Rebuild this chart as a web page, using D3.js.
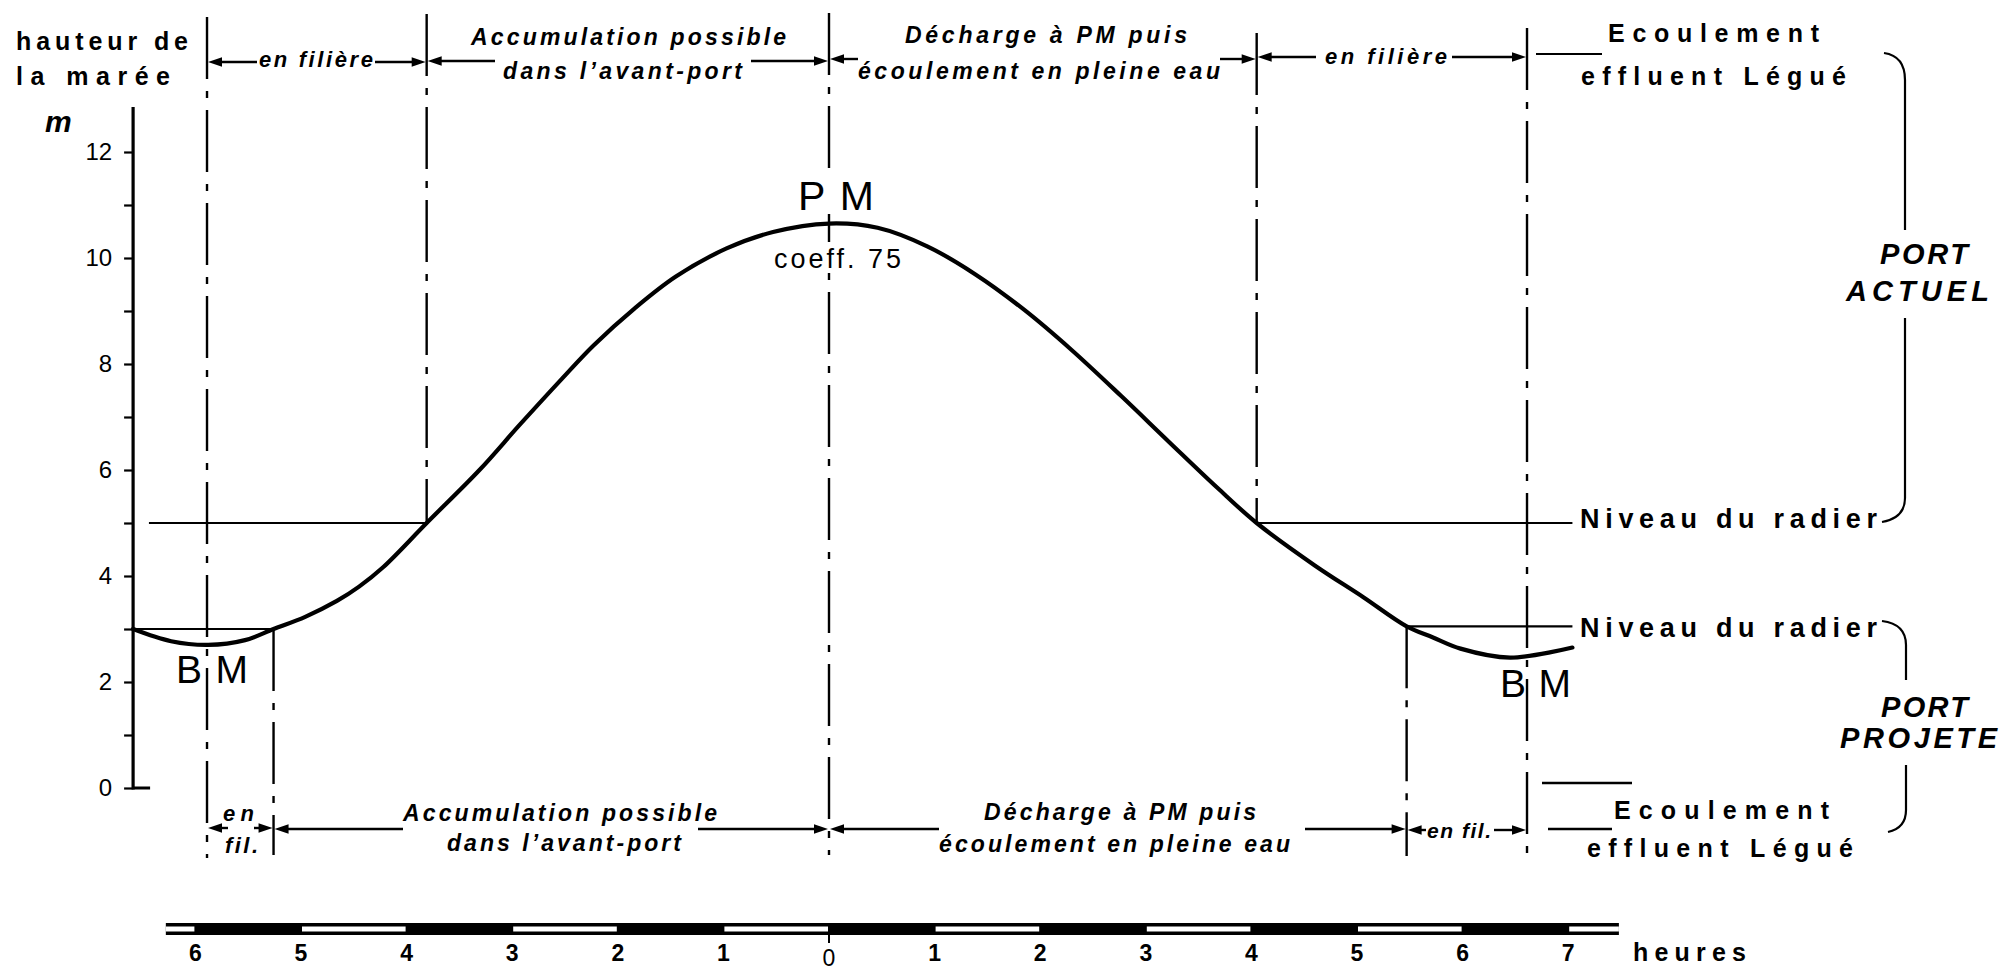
<!DOCTYPE html>
<html><head><meta charset="utf-8">
<script src="https://cdn.jsdelivr.net/npm/d3@7"></script>
<style>html,body{margin:0;padding:0;background:#fff;} svg{display:block;}</style>
</head><body>
<svg id="chart" width="2003" height="972"></svg>
<script>
// ---------------- DATA ----------------
// tide curve: hours relative to high water (PM), height in metres
const tideHours   = [-6.59, -6.23, -5.88, -5.53, -5.26, -4.96, -4.66, -4.45, -4.22, -3.81, -3.31, -2.93, -2.53, -2.23, -1.84, -1.45, -0.97, -0.53, 0, 0.46, 0.93, 1.38, 1.85, 2.30, 2.77, 3.22, 3.68, 4.05, 4.60, 5.06, 5.47, 5.72, 5.98, 6.45, 7.04];
const tideHeights = [3.0, 2.77, 2.70, 2.79, 3.0, 3.23, 3.53, 3.80, 4.17, 5.0, 6.0, 6.85, 7.72, 8.35, 9.05, 9.65, 10.18, 10.49, 10.65, 10.57, 10.22, 9.70, 9.02, 8.26, 7.39, 6.53, 5.66, 5.0, 4.20, 3.60, 3.05, 2.84, 2.63, 2.46, 2.65];
// y axis
const heightTicks = [0,1,2,3,4,5,6,7,8,9,10,11,12];
const heightTickLabels = ["0","","2","","4","","6","","8","","10","","12"];
// time scale
const hourTicks = [-6,-5,-4,-3,-2,-1,0,1,2,3,4,5,6,7];
const hourTickLabels = ["6","5","4","3","2","1","0","1","2","3","4","5","6","7"];
const barEdges = [-6.28,-6,-5,-4,-3,-2,-1,0,1,2,3,4,5,6,7,7.48];
// vertical marker lines (hours)
const markerHours = [-5.89, -5.26, -3.81, 0, 4.05, 5.47, 6.61];
// "Niveau du radier" level lines
const levelStarts  = [-6.44, -6.59, 4.05, 5.47];
const levelEnds    = [-3.81, -5.26, 7.04, 7.04];
const levelHeights = [5, 3, 5, 3.05];

// ---------------- SETUP ----------------
const svg = d3.select("#chart");
const FONT = "'Liberation Sans', Arial, Helvetica, sans-serif";
svg.append("rect").attr("width",2003).attr("height",972).attr("fill","#fff");

const x = d3.scaleLinear().domain([-6, 7]).range([195.4, 1568.2]);
const y = d3.scaleLinear().domain([0, 12]).range([788, 152]);

function label(txt, x0, y0, size, weight, style, width, anchor) {
  const t = svg.append("text")
    .attr("x", x0).attr("y", y0)
    .attr("font-family", FONT)
    .attr("font-size", size)
    .attr("font-weight", weight)
    .attr("font-style", style)
    .attr("fill", "#000")
    .text(txt);
  if (anchor) t.attr("text-anchor", anchor);
  if (width) t.attr("textLength", width).attr("lengthAdjust", "spacing");
  return t;
}

function arrow(xFrom, xTo, yy) {
  const dir = xTo > xFrom ? 1 : -1;
  svg.append("line")
    .attr("x1", xFrom).attr("x2", xTo - dir * 10)
    .attr("y1", yy).attr("y2", yy)
    .attr("stroke", "#000").attr("stroke-width", 2.4);
  svg.append("path")
    .attr("d", `M${xTo},${yy} L${xTo - dir*14},${yy-4.8} L${xTo - dir*14},${yy+4.8} Z`)
    .attr("fill", "#000");
}

// ---------------- VERTICAL MARKER LINES ----------------
const markerTopPx = [17, null, 14, 13, 33, null, 28];
const markerBotPx = [858, 855, null, 855, null, 856, 858];
markerHours.forEach((h, i) => {
  const hIdx = tideHours.indexOf(h);
  const curveY = hIdx >= 0 ? y(tideHeights[hIdx]) : null;
  const top = markerTopPx[i] !== null ? markerTopPx[i] : curveY;
  const bot = markerBotPx[i] !== null ? markerBotPx[i] : curveY;
  svg.append("line")
    .attr("x1", x(h)).attr("x2", x(h))
    .attr("y1", top).attr("y2", bot)
    .attr("stroke", "#000").attr("stroke-width", 2.4)
    .attr("stroke-dasharray", "62,12,7,12");
});

// ---------------- LEVEL LINES ----------------
levelHeights.forEach((v, i) => {
  svg.append("line")
    .attr("x1", x(levelStarts[i])).attr("x2", x(levelEnds[i]))
    .attr("y1", y(v)).attr("y2", y(v))
    .attr("stroke", "#000").attr("stroke-width", 2.2);
});

// ---------------- Y AXIS ----------------
const axisG = svg.append("g").attr("transform", `translate(${x(-6.59)},0)`);
axisG.call(d3.axisLeft(y).tickValues(heightTicks).tickSize(9).tickSizeOuter(0).tickPadding(12)
  .tickFormat((d, i) => heightTickLabels[i]));
axisG.select(".domain").remove();
axisG.selectAll(".tick line").attr("stroke", "#000").attr("stroke-width", 2.2);
axisG.selectAll(".tick text").attr("font-family", FONT).attr("font-size", 24).attr("fill", "#000");
axisG.append("line").attr("x1", 0).attr("x2", 0).attr("y1", y(12.85)).attr("y2", y(0) + 1.5)
  .attr("stroke", "#000").attr("stroke-width", 3.2);
axisG.append("line").attr("x1", 0).attr("x2", 17).attr("y1", y(0)).attr("y2", y(0))
  .attr("stroke", "#000").attr("stroke-width", 3);

// white knock-outs behind PM labels on the PM line
svg.append("rect").attr("x", 822).attr("y", 172).attr("width", 18).attr("height", 42).attr("fill", "#fff");
svg.append("rect").attr("x", 822).attr("y", 242).attr("width", 18).attr("height", 30).attr("fill", "#fff");

// ---------------- TIDE CURVE ----------------
const tide = tideHours.map((h, i) => [h, tideHeights[i]]);
svg.append("path")
  .datum(tide)
  .attr("d", d3.line().x(d => x(d[0])).y(d => y(d[1])).curve(d3.curveCatmullRom.alpha(0.5)))
  .attr("fill", "none").attr("stroke", "#000").attr("stroke-width", 4.2)
  .attr("stroke-linejoin", "round").attr("stroke-linecap", "round");

// ---------------- TEXT LABELS ----------------
label("hauteur de", 16, 50, 25, "bold", "normal", 172);
label("la marée", 16, 85, 25, "bold", "normal", 154);
label("m", 45, 132, 30, "bold", "italic", 28);

// top annotations
label("en filière", 259, 67, 22, "bold", "italic", 114);
arrow(257, x(-5.89) + 1, 62);
arrow(375, x(-3.81) - 1, 62);

label("Accumulation possible", 471, 45, 23, "bold", "italic", 315);
label("dans l’avant-port", 503, 79, 23, "bold", "italic", 239);
arrow(495, x(-3.81) + 1, 61);
arrow(751, x(0) - 1, 61);

label("Décharge à PM puis", 905, 43, 23, "bold", "italic", 282);
label("écoulement en pleine eau", 858, 79, 23, "bold", "italic", 362);
arrow(858, x(0) + 1, 59);
arrow(1220, x(4.05) - 1, 59);

label("en filière", 1325, 64, 22, "bold", "italic", 122);
arrow(1316, x(4.05) + 1, 57);
arrow(1452, x(6.61) - 1, 57);

svg.append("line").attr("x1", 1536).attr("x2", 1602).attr("y1", 54).attr("y2", 54)
  .attr("stroke", "#000").attr("stroke-width", 2.2);
label("Ecoulement", 1608, 42, 25, "bold", "normal", 211);
label("effluent Légué", 1581, 85, 25, "bold", "normal", 265);

label("PM", 798, 210, 41, "normal", "normal", 76);
label("coeff. 75", 774, 268, 27, "normal", "normal", 127);

label("BM", 176, 683, 39, "normal", "normal", 72);
label("BM", 1500, 697, 39, "normal", "normal", 71);

label("Niveau du radier", 1580, 528, 27, "bold", "normal", 297);
label("Niveau du radier", 1580, 637, 27, "bold", "normal", 297);

// brackets
svg.append("path").attr("d", "M1884,53 Q1905,56 1905,80 L1905,230 M1905,318 L1905,498 Q1905,518 1882,522")
  .attr("fill", "none").attr("stroke", "#000").attr("stroke-width", 2.2);
svg.append("path").attr("d", "M1882,621 Q1906,624 1906,645 L1906,680 M1906,765 L1906,810 Q1906,828 1888,832")
  .attr("fill", "none").attr("stroke", "#000").attr("stroke-width", 2.2);
label("PORT", 1880, 264, 29, "bold", "italic", 88);
label("ACTUEL", 1846, 301, 29, "bold", "italic", 143);
label("PORT", 1881, 717, 29, "bold", "italic", 87);
label("PROJETE", 1840, 748, 29, "bold", "italic", 157);

// bottom annotations
label("en", 223, 821, 22, "bold", "italic", 31);
label("fil.", 225, 853, 22, "bold", "italic", 33);
arrow(228, x(-5.89) + 1, 828);
arrow(254, x(-5.26) - 1, 828);

label("Accumulation possible", 403, 821, 23, "bold", "italic", 314);
label("dans l’avant-port", 447, 851, 23, "bold", "italic", 234);
arrow(403, x(-5.26) + 1, 829);
arrow(698, x(0) - 1, 829);

label("Décharge à PM puis", 984, 820, 23, "bold", "italic", 272);
label("écoulement en pleine eau", 939, 852, 23, "bold", "italic", 351);
arrow(939, x(0) + 1, 829);
arrow(1305, x(5.47) - 1, 829);

label("en fil.", 1427, 838, 21, "bold", "italic", 64);
arrow(1426, x(5.47) + 1, 830);
arrow(1494, x(6.61) - 1, 830);

svg.append("line").attr("x1", 1542).attr("x2", 1632).attr("y1", 783).attr("y2", 783)
  .attr("stroke", "#000").attr("stroke-width", 2.4);
svg.append("line").attr("x1", 1548).attr("x2", 1612).attr("y1", 829).attr("y2", 829)
  .attr("stroke", "#000").attr("stroke-width", 2.4);
label("Ecoulement", 1614, 819, 25, "bold", "normal", 215);
label("effluent Légué", 1587, 857, 25, "bold", "normal", 266);

// ---------------- TIME BAR ----------------
const barTop = 923, barH = 12;
svg.append("rect")
  .attr("x", x(barEdges[0])).attr("y", barTop)
  .attr("width", x(barEdges[barEdges.length - 1]) - x(barEdges[0])).attr("height", barH)
  .attr("fill", "#000");
const whiteSegs = [];
for (let i = 0; i < barEdges.length - 1; i += 2) whiteSegs.push([barEdges[i], barEdges[i + 1]]);
svg.selectAll("rect.wseg").data(whiteSegs).enter().append("rect")
  .attr("class", "wseg")
  .attr("x", d => x(d[0]) + (d[0] === barEdges[0] ? 0 : 1))
  .attr("y", barTop + 3.5)
  .attr("width", d => x(d[1]) - x(d[0]) - (d[0] === barEdges[0] ? 1 : 2) + (d[1] === barEdges[barEdges.length-1] ? 1 : 0))
  .attr("height", barH - 7)
  .attr("fill", "#fff");
svg.append("line").attr("x1", x(0)).attr("x2", x(0)).attr("y1", barTop + barH).attr("y2", barTop + barH + 8)
  .attr("stroke", "#000").attr("stroke-width", 2);

svg.selectAll("text.hour").data(hourTicks).enter().append("text")
  .attr("class", "hour")
  .attr("x", d => x(d))
  .attr("y", d => d === 0 ? 966 : 961)
  .attr("text-anchor", "middle")
  .attr("font-family", FONT).attr("font-size", 23).attr("font-weight", d => d === 0 ? "normal" : "bold")
  .attr("fill", "#000")
  .text((d, i) => hourTickLabels[i]);
label("heures", 1633, 961, 25, "bold", "normal", 113);
</script>
</body></html>
